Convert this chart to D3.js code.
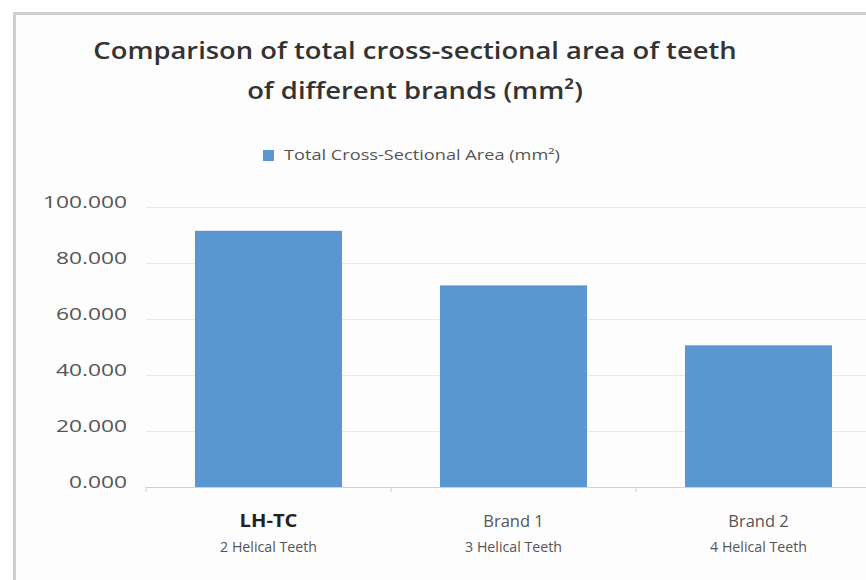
<!DOCTYPE html>
<html><head><meta charset="utf-8">
<script src="https://cdn.jsdelivr.net/npm/d3@7"></script>
<style>body{margin:0;background:#fff;}svg{display:block;font-family:"Open Sans",sans-serif;}</style>
</head><body>
<svg id="c" width="866" height="580"></svg>
<script>
const categories = ["LH-TC", "Brand 1", "Brand 2"];
const subLabels = ["2 Helical Teeth", "3 Helical Teeth", "4 Helical Teeth"];
const values = [91.5, 72.0, 50.6];
const yTicks = [0, 20, 40, 60, 80, 100];
const titleLines = ["Comparison of total cross-sectional area of teeth", "of different brands (mm²)"];
const legendLabel = "Total Cross-Sectional Area (mm²)";

const svg = d3.select("#c");
svg.append("rect").attr("x",0).attr("y",0).attr("width",866).attr("height",580).attr("fill","#fff");
svg.append("rect").attr("x",14.5).attr("y",13.5).attr("width",900).attr("height",600).attr("fill","#fdfdfd").attr("stroke","#cfcfcf").attr("stroke-width",3);

const x = d3.scaleBand().domain(categories).range([146, 881]).paddingInner(0.4).paddingOuter(0.2);
const y = d3.scaleLinear().domain([0, 100]).range([487, 207]);

svg.append("g").selectAll("line").data(yTicks).join("line")
  .attr("x1",146).attr("x2",866).attr("y1",d=>y(d)+0.5).attr("y2",d=>y(d)+0.5)
  .attr("stroke",d=>d===0?"#d0d0d0":"#e8e8e8").attr("stroke-width",1);

const yAxis = d3.axisLeft(y).tickValues(yTicks).tickFormat(d3.format(".3f")).tickSize(0).tickPadding(0);
const ya = svg.append("g").attr("transform","translate(127,0)").call(yAxis);
ya.select(".domain").remove();
ya.selectAll("text").attr("font-size",16.5).attr("fill","#555").attr("font-family","'Open Sans',sans-serif")
  .attr("dy","0.05em").attr("transform","scale(1.38,1)");

const gap = x.step() - x.bandwidth();
svg.append("g").selectAll("line").data(categories).join("line")
  .attr("x1",d=>x(d)-gap/2).attr("x2",d=>x(d)-gap/2)
  .attr("y1",487).attr("y2",492).attr("stroke","#d0d0d0");

svg.append("g").selectAll("rect").data(categories).join("rect")
  .attr("x",d=>x(d)).attr("width",x.bandwidth())
  .attr("y",(d,i)=>y(values[i])).attr("height",(d,i)=>y(0)-y(values[i]))
  .attr("fill","#5a96cf");

const xl = svg.append("g").selectAll("g").data(categories).join("g")
  .attr("transform",d=>`translate(${x(d)+x.bandwidth()/2},0)`);
xl.append("text")
  .attr("transform",(d,i)=>i===0?"translate(0,527) scale(1.12,1)":"translate(0,527)")
  .attr("text-anchor","middle").attr("font-size",(d,i)=>i===0?18:16.5)
  .attr("font-weight",(d,i)=>i===0?"700":"400").attr("fill",(d,i)=>i===0?"#222":"#555").text(d=>d);
xl.append("text").attr("transform","translate(0,552)").attr("text-anchor","middle").attr("font-size",14.2)
  .attr("fill","#555").text((d,i)=>subLabels[i]);

svg.append("g").selectAll("text").data(titleLines).join("text")
  .attr("transform",(d,i)=>`translate(415,${59+i*40}) scale(1.14,1)`).attr("text-anchor","middle")
  .attr("font-size",24).attr("font-weight",600).attr("fill","#333").text(d=>d);

svg.append("rect").attr("x",263).attr("y",150).attr("width",11).attr("height",11).attr("fill","#5a96cf");
svg.append("text").attr("transform","translate(284,160) scale(1.3,1)").attr("font-size",14).attr("fill","#555").text(legendLabel);
</script>
</body></html>
